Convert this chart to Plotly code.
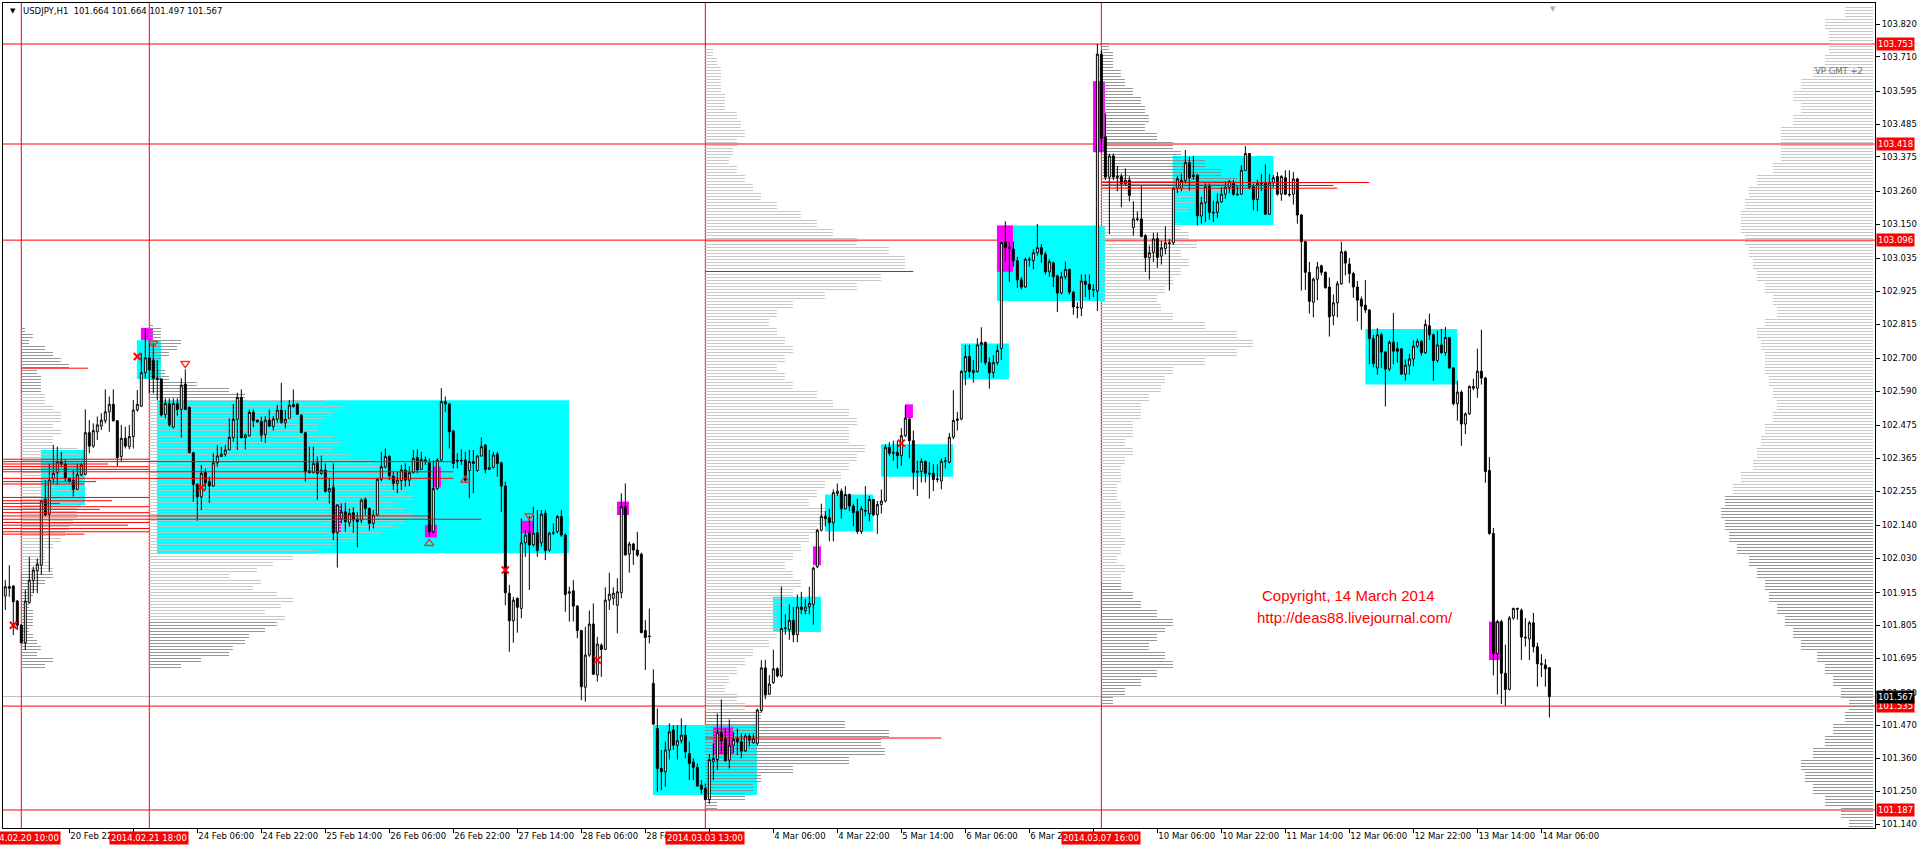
import numpy as np
import plotly.graph_objects as go

# ---------------- data (prices stored as thousandths above 100.000) ----------------
BASE = 100.0
UNIT = 0.001

BAR_OPEN = [
1904,1935,1937,1887,1806,1747,1881,1955,1989,2007,
2228,2178,2298,2317,2356,2346,2298,2292,2261,2310,
2311,2451,2406,2454,2473,2491,2521,2546,2491,2371,
2432,2404,2438,2527,2540,2652,2702,2694,2633,2631,
2512,2549,2469,2549,2529,2614,2536,2384,2278,2236,
2318,2287,2272,2350,2371,2379,2393,2434,2496,2569,
2434,2440,2519,2493,2488,2445,2493,2471,2496,2527,
2484,2499,2546,2546,2510,2451,2323,2317,2350,2315,
2326,2253,2268,2116,2164,2186,2149,2183,2161,2158,
2228,2197,2147,2175,2295,2337,2371,2306,2281,2290,
2326,2292,2317,2368,2328,2360,2350,2119,2264,2359,
2555,2547,2457,2354,2359,2359,2324,2354,2324,2373,
2410,2328,2335,2379,2350,2272,1913,1821,1896,1862,
2082,2114,2075,2116,2082,2181,2058,2114,2119,2170,
2108,1913,1921,1870,1788,1598,1706,1810,1639,1739,
1725,1890,1896,1873,1915,2203,2044,2078,2058,2044,
1788,1770,1611,1460,1326,1315,1388,1455,1404,1419,
1438,1376,1348,1330,1270,1259,1222,1349,1356,1446,
1427,1354,1404,1427,1416,1385,1435,1412,1410,1520,
1663,1575,1614,1660,1636,1795,1791,1822,1774,1867,
1855,1867,1876,2002,2124,2171,2166,2149,2247,2255,
2196,2244,2205,2188,2120,2188,2180,2227,2176,2210,
2222,2402,2382,2385,2374,2441,2497,2424,2318,2321,
2355,2315,2315,2294,2289,2355,2352,2436,2492,2497,
2656,2706,2659,2656,2745,2753,2686,2652,2686,2733,
3091,3071,3066,3027,2963,2939,3032,3027,3054,3071,
3049,2990,3020,2976,2919,2973,2998,2922,2872,2868,
2959,2948,2931,2926,3719,3442,3307,3378,3310,3310,
3285,3297,3138,3167,3167,3111,3037,3055,3102,3042,
3068,3087,3087,3270,3270,3296,3356,3314,3314,3177,
3221,3279,3189,3189,3224,3250,3273,3288,3250,3250,
3330,3386,3275,3232,3286,3288,3183,3288,3309,3250,
3305,3250,3250,3301,3180,3091,2988,2888,2965,3010,
2988,2939,2843,2886,2950,3057,3016,2984,2939,2898,
2878,2862,2766,2668,2779,2721,2664,2754,2732,2732,
2647,2677,2698,2741,2757,2719,2809,2779,2693,2745,
2719,2770,2668,2548,2587,2480,2514,2600,2600,2657,
2634,2324,2113,1711,1818,1645,1591,1830,1862,1856,
1766,1760,1814,1734,1677,1673,1664]

BAR_HIGH = [
1957,2007,1940,1890,1810,1924,2035,2002,2030,2226,
2292,2348,2410,2404,2387,2360,2300,2326,2348,2350,
2529,2493,2482,2505,2516,2596,2572,2596,2493,2477,
2471,2477,2560,2594,2717,2801,2761,2750,2694,2633,
2566,2566,2566,2566,2633,2663,2538,2387,2281,2343,
2331,2304,2382,2410,2404,2410,2499,2547,2585,2596,
2449,2529,2529,2495,2505,2507,2529,2507,2544,2618,
2527,2560,2596,2551,2513,2454,2404,2404,2371,2374,
2348,2298,2348,2212,2214,2216,2197,2201,2186,2231,
2234,2200,2192,2298,2387,2398,2376,2320,2320,2343,
2348,2339,2393,2395,2387,2371,2365,2359,2365,2600,
2572,2549,2460,2382,2395,2387,2393,2393,2375,2435,
2412,2393,2387,2387,2354,2287,1941,1901,1899,2164,
2125,2172,2203,2192,2192,2192,2119,2147,2175,2192,
2114,1935,1957,1873,1790,1801,1855,1879,1767,1745,
1933,1982,1933,1963,2248,2281,2086,2082,2119,2049,
1823,1862,1658,1527,1388,1416,1477,1471,1471,1494,
1471,1416,1360,1343,1287,1276,1374,1410,1510,1557,
1460,1490,1449,1460,1443,1443,1443,1443,1527,1689,
1690,1639,1724,1665,1935,1842,1876,1867,1909,1918,
1893,1935,2002,2129,2213,2188,2196,2261,2281,2264,
2272,2247,2213,2230,2205,2272,2239,2230,2222,2261,
2412,2419,2424,2424,2466,2542,2500,2458,2357,2365,
2357,2352,2345,2345,2365,2369,2450,2593,2521,2661,
2745,2745,2694,2767,2804,2757,2703,2711,2745,3091,
3159,3091,3091,3040,2973,3037,3040,3066,3150,3083,
3057,3032,3024,2981,2990,3024,3000,2926,2888,2981,
2981,2981,2948,3753,3732,3521,3386,3386,3344,3319,
3336,3310,3226,3192,3280,3116,3078,3121,3121,3093,
3142,3100,3273,3311,3318,3398,3375,3378,3318,3241,
3286,3286,3228,3253,3273,3292,3298,3298,3279,3347,
3411,3388,3286,3298,3318,3350,3318,3314,3324,3314,
3330,3330,3324,3305,3183,3093,3023,2971,3023,3014,
2991,2971,2914,2959,3091,3061,3036,2990,2959,2907,
2962,2865,2779,2801,2786,2724,2760,2852,2754,2734,
2696,2715,2760,2766,2762,2830,2850,2783,2792,2798,
2805,2772,2670,2625,2593,2519,2609,2632,2732,2796,
2638,2369,2132,1824,1824,1741,1837,1865,1865,1862,
1830,1821,1847,1747,1709,1693,1664]

BAR_LOW = [
1857,1901,1773,1790,1745,1723,1879,1913,1913,1974,
2170,1985,2281,2276,2337,2287,2283,2237,2258,2305,
2308,2382,2400,2426,2460,2482,2454,2488,2339,2354,
2398,2395,2398,2521,2538,2633,2583,2583,2560,2505,
2499,2471,2465,2507,2435,2527,2382,2220,2156,2192,
2259,2216,2270,2337,2371,2371,2393,2421,2393,2432,
2395,2439,2469,2484,2421,2417,2469,2458,2484,2482,
2465,2499,2536,2510,2449,2287,2315,2315,2225,2309,
2250,2214,2091,1999,2147,2119,2136,2116,2067,2147,
2175,2123,2130,2172,2288,2331,2292,2259,2248,2259,
2270,2272,2315,2315,2326,2343,2102,2114,2259,2354,
2521,2398,2331,2331,2343,2287,2231,2248,2320,2371,
2315,2326,2331,2304,2186,1873,1717,1747,1781,1829,
2035,1924,2069,2035,2069,2024,2052,2108,2114,2102,
1851,1818,1818,1762,1555,1550,1700,1639,1617,1633,
1723,1857,1873,1779,1896,2041,1982,2008,2035,1779,
1656,1745,1471,1248,1254,1265,1356,1388,1356,1410,
1360,1287,1287,1265,1242,1220,1207,1287,1321,1376,
1349,1326,1376,1371,1360,1382,1399,1410,1404,1513,
1558,1572,1609,1631,1631,1774,1757,1749,1749,1842,
1842,1842,1808,1997,2120,2137,2087,2087,2239,2163,
2194,2188,2137,2112,2112,2171,2154,2171,2112,2180,
2217,2374,2357,2331,2340,2436,2365,2261,2239,2284,
2284,2230,2255,2284,2261,2331,2348,2429,2458,2492,
2610,2635,2618,2652,2686,2677,2598,2635,2677,2694,
3024,2956,3007,2936,2931,2936,3007,2998,3044,3020,
2981,2973,2939,2855,2914,2964,2914,2846,2834,2841,
2905,2897,2905,2858,3390,3297,3116,3297,3260,3206,
3277,3226,3111,3159,3106,2990,2964,3023,3003,3014,
3048,2927,3080,3253,3260,3286,3262,3298,3145,3151,
3157,3164,3157,3170,3221,3234,3253,3245,3245,3247,
3327,3266,3196,3193,3260,3180,3180,3273,3245,3228,
3247,3241,3215,3151,2927,2929,2850,2837,2895,2978,
2933,2773,2811,2837,2946,2978,2952,2903,2824,2796,
2852,2680,2670,2645,2668,2539,2657,2680,2686,2645,
2625,2645,2673,2734,2709,2715,2762,2625,2686,2715,
2709,2664,2542,2491,2407,2446,2510,2593,2568,2612,
2283,2109,1638,1574,1542,1536,1587,1824,1824,1689,
1734,1689,1715,1600,1632,1600,1497]

BAR_CLOSE = [
1935,1930,1885,1806,1747,1887,1957,1991,2011,2223,
2175,2292,2315,2354,2346,2298,2287,2261,2310,2343,
2451,2406,2458,2477,2493,2521,2546,2491,2367,2432,
2406,2438,2527,2546,2652,2702,2661,2633,2630,2510,
2549,2477,2549,2529,2610,2529,2384,2278,2236,2315,
2283,2272,2350,2373,2379,2393,2435,2496,2569,2434,
2443,2519,2491,2487,2443,2493,2473,2497,2527,2484,
2496,2543,2538,2513,2451,2320,2317,2348,2315,2326,
2255,2264,2116,2209,2186,2153,2181,2158,2153,2225,
2197,2147,2175,2295,2337,2371,2306,2281,2292,2326,
2292,2317,2365,2326,2362,2354,2119,2264,2359,2555,
2547,2454,2348,2359,2357,2292,2354,2348,2373,2404,
2328,2335,2376,2348,2272,1915,1821,1890,1866,2082,
2108,2075,2114,2056,2178,2056,2114,2116,2170,2108,
1909,1918,1870,1788,1600,1706,1810,1642,1743,1725,
1890,1910,1913,1918,2203,2041,2078,2058,2041,1781,
1765,1768,1475,1326,1315,1388,1449,1404,1419,1438,
1382,1343,1330,1267,1256,1222,1356,1360,1446,1419,
1352,1404,1423,1416,1385,1435,1421,1427,1522,1663,
1572,1609,1660,1636,1795,1797,1822,1774,1867,1859,
1867,1879,1997,2124,2171,2163,2149,2250,2255,2196,
2244,2205,2183,2120,2196,2190,2227,2176,2210,2222,
2402,2382,2385,2374,2441,2500,2424,2318,2321,2355,
2315,2313,2294,2296,2355,2357,2436,2492,2497,2656,
2706,2656,2652,2745,2753,2686,2652,2686,2726,3088,
3071,3069,3027,2963,2939,3032,3030,3054,3071,3049,
2990,3024,2973,2919,2973,2998,2922,2872,2870,2959,
2948,2931,2929,3719,3437,3307,3378,3307,3307,3285,
3297,3246,3167,3166,3108,3037,3054,3100,3038,3070,
3087,3085,3270,3301,3296,3356,3305,3309,3177,3221,
3275,3189,3187,3224,3250,3273,3292,3250,3248,3330,
3386,3273,3232,3286,3284,3183,3288,3305,3250,3309,
3250,3248,3301,3180,3091,2988,2891,2965,3006,2988,
2937,2839,2886,2950,3057,3019,2984,2939,2895,2875,
2862,2766,2683,2779,2721,2664,2754,2724,2724,2647,
2677,2698,2741,2757,2719,2814,2779,2693,2745,2719,
2770,2668,2548,2587,2480,2514,2606,2606,2657,2634,
2321,2113,1711,1818,1645,1591,1830,1862,1860,1766,
1764,1814,1734,1677,1675,1660,1567]

# time axis labels (bar index -> text); labels hidden under the session boxes are blank
TIME_TICK_BARS = [16, 32, 48, 64, 80, 96, 112, 128, 144, 160, 176, 192, 208,
                  224, 240, 256, 272, 288, 304, 320, 336, 352, 368, 384]
TIME_TICK_TEXT = ["20 Feb 22:00", "", "24 Feb 06:00",
                  "24 Feb 22:00", "25 Feb 14:00", "26 Feb 06:00", "26 Feb 22:00",
                  "27 Feb 14:00", "28 Feb 06:00", "28 Feb 22:00", "",
                  "4 Mar 06:00", "4 Mar 22:00", "5 Mar 14:00", "6 Mar 06:00",
                  "6 Mar 22:00", "", "10 Mar 06:00", "10 Mar 22:00",
                  "11 Mar 14:00", "12 Mar 06:00", "12 Mar 22:00", "13 Mar 14:00",
                  "14 Mar 06:00"]

PRICE_TICKS = [103.820, 103.710, 103.595, 103.485, 103.375, 103.260, 103.150,
               103.035, 102.925, 102.815, 102.700, 102.590, 102.475, 102.365,
               102.255, 102.140, 102.030, 101.915, 101.805, 101.695, 101.580,
               101.470, 101.360, 101.250, 101.140]

LEVEL_PRICES = [103.753, 103.418, 103.096, 101.535, 101.187]
BID_PRICE = 101.567
SESSION_BARS = [4, 36, 175, 274]
SESSION_TEXT = ["2014.02.20 10:00", "2014.02.21 18:00", "2014.03.03 13:00", "2014.03.07 16:00"]

# cyan zones: bar-index edges and price bounds
ZONE_X0 = [8.9, 32.9, 37.9, 161.9, 191.9, 204.9, 218.9, 238.9, 247.9, 291.8, 340.0]
ZONE_X1 = [19.9, 38.9, 140.9, 187.9, 203.9, 216.9, 236.9, 250.9, 274.9, 317.0, 363.0]
ZONE_LO = [102.209, 102.631, 102.047, 101.237, 101.783, 102.120, 102.303, 102.630, 102.892, 103.147, 102.612]
ZONE_HI = [102.393, 102.761, 102.560, 101.472, 101.901, 102.244, 102.412, 102.750, 103.145, 103.378, 102.798]

# magenta boxes
MARK_X0 = [33.9, 82.2, 104.9, 106.9, 129.2, 152.9, 176.9, 201.9, 224.9, 247.9, 271.9, 370.9]
MARK_X1 = [36.9, 83.9, 107.9, 108.9, 131.9, 155.9, 181.9, 203.9, 226.9, 251.9, 274.9, 373.6]
MARK_LO = [102.761, 102.118, 102.100, 102.268, 102.114, 102.175, 101.371, 102.007, 102.500, 102.990, 103.390, 101.689]
MARK_HI = [102.802, 102.209, 102.142, 102.337, 102.156, 102.220, 101.466, 102.070, 102.546, 103.145, 103.628, 101.818]

# red volume-profile level segments: price (thousandths), start bar, end bar
RED_SEG_PRICE = [2362, 2354, 2346, 2337, 2328, 2320, 2298, 2287, 2279, 2234, 2223,
                 2214, 2203, 2194, 2183, 2172, 2161, 2150, 2141, 2130, 2119, 2111,
                 2667, 2991, 1428, 3289, 3279, 3270]
RED_SEG_START = [-0.6] * 22 + [4, 175, 175, 274, 274, 274]
RED_SEG_END = [36, 112, 25.7, 36, 36, 112, 112, 22.7, 19.8, 36, 26.7,
               13.6, 36, 23.6, 36, 105.7, 119, 36, 30.7, 36, 36, 19.8,
               20.7, 227, 234, 341, 332, 333]

# volume profiles: lowest level (thousandths), level step, lengths in bars (low -> high),
# and the price bands (thousandths) drawn in the darker grey
VP1_BOTTOM, VP1_STEP, VP1_ANCHOR = 1670, 20, 4
VP1_LEN = [6, 8, 4, 5, 4, 3, 2, 3, 3, 3, 2, 2, 3, 4, 6, 8, 8, 7, 6, 6, 8, 10, 11, 12,
           13, 14, 14, 15, 15, 15, 16, 16, 16, 16, 15, 15, 14, 8, 8, 10, 8, 10, 10,
           8, 6, 6, 5, 5, 5, 4, 12, 10, 8, 6, 2, 3, 1]
VP1_DARK = [(1660, 1980), (2590, 2800)]
VP2_BOTTOM, VP2_STEP, VP2_ANCHOR = 1670, 20, 36
VP2_LEN = [8, 13, 20, 21, 24, 25, 29, 32, 34, 29, 33, 36, 32, 26, 28, 20, 27, 31, 36,
           42, 46, 52, 58, 62, 64, 66, 64, 62, 66, 64, 66, 64, 62, 60, 56, 50, 46, 48,
           46, 42, 42, 44, 46, 48, 44, 24, 20, 12, 5, 4, 2, 3, 5, 7, 8, 3, 3, 1]
VP2_DARK = [(1660, 1820), (2560, 2820)]
VP3_BOTTOM, VP3_STEP, VP3_ANCHOR = 1200, 30, 175
VP3_LEN = [3, 10, 12, 14, 22, 36, 45, 44, 46, 35, 14, 10, 8, 5, 6, 8, 10, 12, 16, 18,
           20, 18, 18, 20, 22, 24, 22, 20, 22, 24, 26, 28, 32, 30, 26, 28, 30, 34, 36,
           38, 40, 36, 36, 38, 36, 32, 28, 22, 20, 18, 20, 22, 20, 18, 16, 18, 22, 30,
           38, 44, 50, 50, 46, 38, 32, 28, 24, 18, 14, 12, 10, 8, 6, 7, 8, 10, 9, 8,
           5, 5, 4, 4, 4, 3, 2]
VP3_DARK = [(1190, 1500)]
VP4_BOTTOM, VP4_STEP, VP4_ANCHOR = 1550, 30, 274
VP4_LEN = [3, 6, 10, 14, 18, 16, 12, 14, 16, 18, 14, 10, 8, 5, 5, 6, 4, 5, 6, 5, 5,
           6, 5, 4, 4, 5, 5, 6, 8, 6, 8, 8, 10, 10, 12, 15, 16, 18, 26, 34, 38, 34,
           26, 18, 15, 14, 16, 18, 20, 22, 20, 24, 22, 20, 18, 22, 26, 30, 34, 30,
           26, 20, 18, 14, 11, 12, 11, 10, 8, 6, 5, 3, 3, 2]
VP4_DARK = [(1540, 1960), (3290, 3760)]
VPR_BOTTOM, VPR_STEP, VPR_ANCHOR = 1140, 40, 467
VPR_LEN = [6, 8, 12, 15, 17, 18, 15, 12, 10, 7, 6, 8, 10, 12, 14, 18, 20, 22, 24, 26,
           27, 29, 31, 34, 36, 37, 38, 37, 35, 33, 30, 29, 28, 27, 25, 24, 25, 26, 27,
           27, 28, 29, 27, 24, 25, 27, 29, 30, 31, 32, 33, 33, 32, 31, 29, 25, 23, 23,
           23, 20, 18, 20, 18, 15, 12, 11, 11, 12, 7]
VPR_DARK = [(1130, 2220)]

# signal markers
XMARK_BAR = [2, 33, 49, 125, 148, 224]
XMARK_PRICE = [101.806, 102.706, 102.267, 101.991, 101.689, 102.416]
DOWN_BAR = [37, 45, 131]
DOWN_PRICE = [102.750, 102.683, 102.173]
UP_BAR = [106, 115]
UP_PRICE = [102.080, 102.292]

# ---------------- figure ----------------
def px(v):
    return BASE + np.asarray(v, dtype=float) * UNIT

X_RANGE = [-0.575, 467.4]
Y_RANGE = [101.1266, 103.8904]
AXIS_FONT = dict(family="DejaVu Sans", size=8.5, color="black")
LIGHT_GREY = "#c2c2c2"
DARK_GREY = "#8a8a8a"
CLEAR = "rgba(0,0,0,0)"

fig = go.Figure()

def add_profile(bottom, step, lengths, anchor, direction, dark_bands):
    lens = np.asarray(lengths, dtype=float)
    raw = bottom + step * np.arange(len(lens))
    dark = np.zeros(len(lens), dtype=bool)
    for lo, hi in dark_bands:
        dark |= (raw >= lo) & (raw <= hi)
    levels = px(raw)
    base = np.full(len(lens), float(anchor)) if direction > 0 else anchor - lens
    for mask, col in ((~dark, LIGHT_GREY), (dark, DARK_GREY)):
        if not mask.any():
            continue
        fig.add_trace(go.Bar(
            orientation="h", y=levels[mask], x=lens[mask], base=base[mask], width=step * UNIT,
            marker=dict(color=CLEAR, line=dict(width=0),
                        pattern=dict(shape="-", size=3, solidity=0.3,
                                     fgcolor=col, bgcolor=CLEAR, fillmode="replace")),
            hoverinfo="skip", showlegend=False))

add_profile(VP1_BOTTOM, VP1_STEP, VP1_LEN, VP1_ANCHOR, 1, VP1_DARK)
add_profile(VP2_BOTTOM, VP2_STEP, VP2_LEN, VP2_ANCHOR, 1, VP2_DARK)
add_profile(VP3_BOTTOM, VP3_STEP, VP3_LEN, VP3_ANCHOR, 1, VP3_DARK)
add_profile(VP4_BOTTOM, VP4_STEP, VP4_LEN, VP4_ANCHOR, 1, VP4_DARK)
add_profile(VPR_BOTTOM, VPR_STEP, VPR_LEN, VPR_ANCHOR, -1, VPR_DARK)

# red profile level segments
seg_x, seg_y = [], []
for p, a, b in zip(RED_SEG_PRICE, RED_SEG_START, RED_SEG_END):
    seg_x += [a, b, None]
    seg_y += [float(px(p)), float(px(p)), None]
fig.add_trace(go.Scatter(x=seg_x, y=seg_y, mode="lines",
                         line=dict(color="#ff0000", width=1),
                         hoverinfo="skip", showlegend=False))

bars = np.arange(len(BAR_CLOSE))
fig.add_trace(go.Candlestick(
    x=bars, open=px(BAR_OPEN), high=px(BAR_HIGH), low=px(BAR_LOW), close=px(BAR_CLOSE),
    increasing=dict(fillcolor="white", line=dict(color="black", width=1)),
    decreasing=dict(fillcolor="black", line=dict(color="black", width=1)),
    whiskerwidth=0, showlegend=False, hoverinfo="skip"))

fig.add_trace(go.Scatter(x=XMARK_BAR, y=XMARK_PRICE, mode="markers",
                         marker=dict(symbol="x-thin", size=7, line=dict(color="#ff0000", width=2)),
                         hoverinfo="skip", showlegend=False))
fig.add_trace(go.Scatter(x=DOWN_BAR, y=DOWN_PRICE, mode="markers",
                         marker=dict(symbol="triangle-down-open", size=8, color="#ff3030",
                                     line=dict(width=1.5)),
                         hoverinfo="skip", showlegend=False))
fig.add_trace(go.Scatter(x=UP_BAR, y=UP_PRICE, mode="markers",
                         marker=dict(symbol="triangle-up-open", size=8, color="#d04040",
                                     line=dict(width=1.5)),
                         hoverinfo="skip", showlegend=False))

shapes = []
for x0, x1, lo, hi in zip(ZONE_X0, ZONE_X1, ZONE_LO, ZONE_HI):
    shapes.append(dict(type="rect", xref="x", yref="y", x0=x0, x1=x1, y0=lo, y1=hi,
                       fillcolor="#00ffff", line=dict(width=0), layer="below"))
for x0, x1, lo, hi in zip(MARK_X0, MARK_X1, MARK_LO, MARK_HI):
    shapes.append(dict(type="rect", xref="x", yref="y", x0=x0, x1=x1, y0=lo, y1=hi,
                       fillcolor="#ff00ff", line=dict(width=0), layer="below"))
shapes.append(dict(type="line", xref="paper", yref="y", x0=0, x1=1, y0=BID_PRICE, y1=BID_PRICE,
                   line=dict(color="#c0c0c0", width=1), layer="below"))
for p in LEVEL_PRICES:
    shapes.append(dict(type="line", xref="paper", yref="y", x0=0, x1=1, y0=p, y1=p,
                       line=dict(color="#ff0000", width=1), layer="below"))
for b in SESSION_BARS:
    shapes.append(dict(type="line", xref="x", yref="paper", x0=b, x1=b, y0=0, y1=1,
                       line=dict(color="#ff0000", width=1), layer="below"))

annotations = []
for p in LEVEL_PRICES:
    annotations.append(dict(x=1, xref="paper", y=p, yref="y", xanchor="left", yanchor="middle",
                            xshift=1, text=f"{p:.3f}", showarrow=False, bgcolor="#ff0000",
                            borderpad=1, font=dict(family="DejaVu Sans", size=8.5, color="white")))
annotations.append(dict(x=1, xref="paper", y=BID_PRICE, yref="y", xanchor="left", yanchor="middle",
                        xshift=1, text=f"{BID_PRICE:.3f}", showarrow=False, bgcolor="#000000",
                        borderpad=1, font=dict(family="DejaVu Sans", size=8.5, color="white")))
for b, t in zip(SESSION_BARS, SESSION_TEXT):
    annotations.append(dict(x=b, xref="x", y=0, yref="paper", xanchor="center", yanchor="top",
                            yshift=-3, text=t, showarrow=False, bgcolor="#ff0000", borderpad=1,
                            font=dict(family="DejaVu Sans", size=8.5, color="white")))
annotations.append(dict(x=0.0096, xref="paper", y=0.99, yref="paper", xanchor="left",
                        yanchor="middle", showarrow=False,
                        text="USDJPY,H1  101.664 101.664 101.497 101.567",
                        font=dict(family="DejaVu Sans", size=8.5, color="black")))
annotations.append(dict(x=0.0025, xref="paper", y=0.99, yref="paper", xanchor="left",
                        yanchor="middle", showarrow=False, text="▼",
                        font=dict(family="DejaVu Sans", size=7, color="black")))
annotations.append(dict(x=386.9, xref="x", y=1, yref="paper", xanchor="center",
                        yanchor="top", showarrow=False, text="▼",
                        font=dict(family="DejaVu Sans", size=7, color="#b0b0b0")))
annotations.append(dict(x=464.9, xref="x", y=103.663, yref="y", xanchor="right",
                        yanchor="middle", showarrow=False, text="VP GMT +2",
                        font=dict(family="DejaVu Sans", size=8.5, color="#707070")))
annotations.append(dict(x=335.7, xref="x", y=101.907, yref="y", xanchor="center",
                        yanchor="middle", showarrow=False, text="Copyright, 14 March 2014",
                        font=dict(family="Liberation Sans", size=15, color="#ff0000")))
annotations.append(dict(x=337.4, xref="x", y=101.833, yref="y", xanchor="center",
                        yanchor="middle", showarrow=False, text="http://deas88.livejournal.com/",
                        font=dict(family="Liberation Sans", size=15, color="#ff0000")))

fig.update_layout(
    width=1920, height=849, autosize=False,
    margin=dict(l=3, r=45, t=3, b=21, pad=0),
    paper_bgcolor="white", plot_bgcolor="white",
    barmode="overlay", bargap=0, showlegend=False, hovermode=False,
    shapes=shapes, annotations=annotations,
    xaxis=dict(type="linear", range=X_RANGE, showgrid=False, zeroline=False,
               showline=True, linecolor="black", linewidth=1, mirror=True,
               tickmode="array", tickvals=TIME_TICK_BARS, ticktext=TIME_TICK_TEXT,
               tickangle=0, ticks="outside", ticklen=4, tickcolor="black",
               ticklabelposition="outside right", tickfont=AXIS_FONT,
               rangeslider=dict(visible=False), fixedrange=True),
    yaxis=dict(range=Y_RANGE, side="right", showgrid=False, zeroline=False,
               showline=True, linecolor="black", linewidth=1, mirror=True,
               tickmode="array", tickvals=PRICE_TICKS,
               ticktext=[f"{v:.3f}" for v in PRICE_TICKS],
               ticks="outside", ticklen=4, tickcolor="black", tickfont=AXIS_FONT,
               fixedrange=True),
)

fig.write_html("out.html", config={"displayModeBar": False},
               post_script="document.body.style.margin='0';document.body.style.overflow='hidden';")
